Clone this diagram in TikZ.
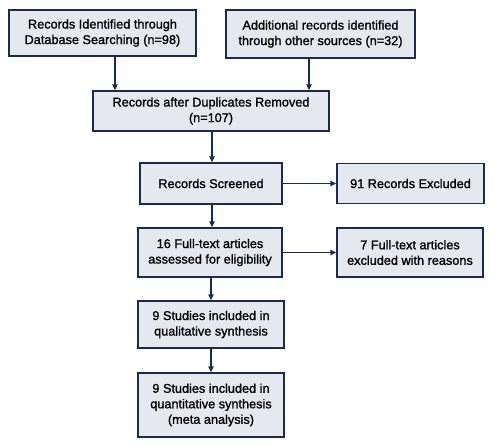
\documentclass[tikz,border=0pt]{standalone}
\usepackage{fontspec}
\setmainfont{Liberation Sans}
\newfontfamily\boxfont[FakeBold=1.2]{Liberation Sans}
\usetikzlibrary{arrows.meta}
\definecolor{boxline}{HTML}{1C2B4A}
\definecolor{boxfill}{HTML}{E4E9EF}
\tikzset{
  flowbox/.style={draw=boxline, fill=boxfill, line width=1.4pt, align=center,
    inner sep=0pt, font=\boxfont\fontsize{12.7}{15.5}\selectfont},
  flowarrow/.style={draw=boxline, line width=1.4pt, -{Triangle[length=6pt,width=5.5pt]}}
}
\begin{document}
\begin{tikzpicture}[x=1pt,y=1pt]
\useasboundingbox (0,0) rectangle (500,445);
\node[flowbox, minimum width=187pt, minimum height=46pt] (A) at (102.5,412) {Records Identified through\\Database Searching (n=98)};
\node[flowbox, minimum width=189pt, minimum height=48pt] (B) at (320.5,411) {Additional records identified\\through other sources (n=32)};
\node[flowbox, minimum width=236pt, minimum height=40pt] (C) at (211,334) {Records after Duplicates Removed\\(n=107)};
\node[flowbox, minimum width=142pt, minimum height=41pt] (D) at (211,261.5) {Records Screened};
\node[flowbox, minimum width=147pt, minimum height=40pt] (E) at (410.5,261.5) {91 Records Excluded};
\node[flowbox, minimum width=144pt, minimum height=49pt] (F) at (210,192.5) {16 Full-text articles\\assessed for eligibility};
\node[flowbox, minimum width=146pt, minimum height=49pt] (G) at (410,192.5) {7 Full-text articles\\excluded with reasons};
\node[flowbox, minimum width=146pt, minimum height=47pt] (H) at (211,120.5) {9 Studies included in\\qualitative synthesis};
\node[flowbox, minimum width=146pt, minimum height=64pt] (I) at (211,40) {9 Studies included in\\quantitative synthesis\\(meta analysis)};
\draw[flowarrow] ([xshift=12.5pt]A.south) -- ([xshift=12.5pt]A.south |- C.north);
\draw[flowarrow] ([xshift=-11.5pt]B.south) -- ([xshift=-11.5pt]B.south |- C.north);
\draw[flowarrow] ([xshift=1pt]C.south) -- ([xshift=1pt]C.south |- D.north);
\draw[flowarrow] (D.east) -- (E.west);
\draw[flowarrow] ([xshift=1pt]D.south) -- ([xshift=1pt]D.south |- F.north);
\draw[flowarrow] (F.east) -- (F.east -| G.west);
\draw[flowarrow] ([xshift=1pt]F.south) -- ([xshift=1pt]F.south |- H.north);
\draw[flowarrow] (H.south) -- (H.south |- I.north);
\end{tikzpicture}
\end{document}
